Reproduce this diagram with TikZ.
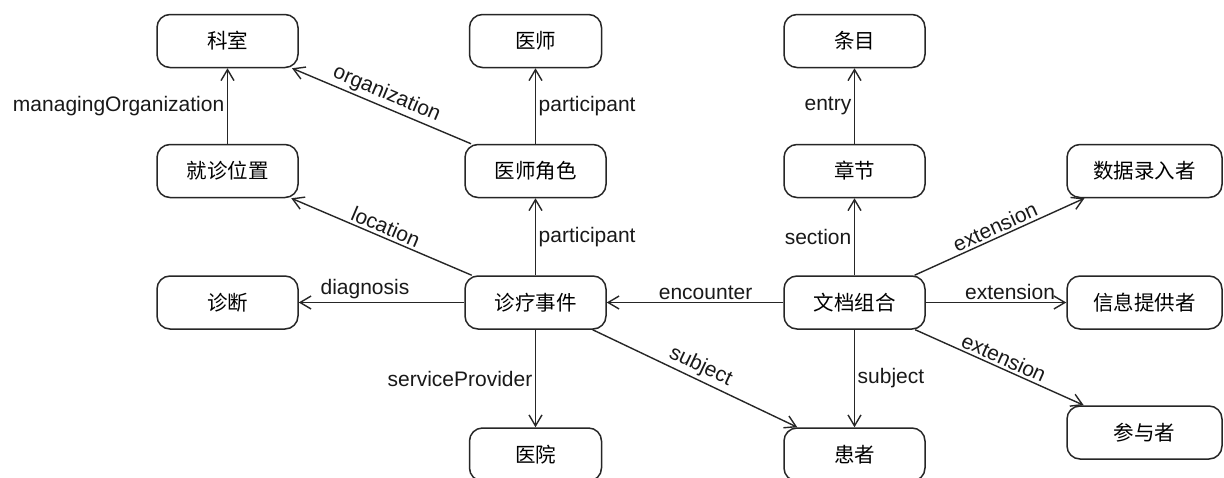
\documentclass[tikz,border=0pt]{standalone}
\usepackage{fontspec}
\setmainfont{Liberation Sans}
\newfontfamily\cjk{Noto Sans CJK SC}
\usetikzlibrary{arrows.meta}
\begin{document}
\begin{tikzpicture}[x=1pt,y=-1pt,
  box/.style={draw=black!85, line width=1.5pt, rounded corners=13pt, minimum width=141pt, minimum height=53pt, inner sep=0pt, font=\fontsize{20.5}{24}\cjk},
  conn/.style={draw=black!85, line width=1.4pt, -{Straight Barb[length=11pt,width=13pt,line width=1.4pt]}},
  lbl/.style={font=\fontsize{21}{25}\selectfont, inner sep=2.5pt, text=black!90}
]
\useasboundingbox (0,0) rectangle (1224,477);
\fill[white] (0,0) rectangle (1224,477);
\clip (0,0) rectangle (1224,477);

\node[box] (ks) at (227.5,41) {科室};
\node[box, minimum width=132pt] (ys) at (535.5,41) {医师};
\node[box] (tm) at (854.5,41) {条目};
\node[box] (jz) at (227.5,171) {就诊位置};
\node[box] (ysjs) at (535.5,171) {医师角色};
\node[box] (zj) at (854.5,171) {章节};
\node[box, minimum width=155pt] (sj) at (1144.5,171) {数据录入者};
\node[box] (zd) at (227.5,302.5) {诊断};
\node[box] (zl) at (535.5,302.5) {诊疗事件};
\node[box] (wd) at (854.5,302.5) {文档组合};
\node[box, minimum width=155pt] (xx) at (1144.5,302.5) {信息提供者};
\node[box, minimum width=155pt] (cy) at (1144.5,432.5) {参与者};
\node[box, minimum width=132pt] (yy) at (535.5,454.5) {医院};
\node[box] (hz) at (854.5,454.5) {患者};

\draw[conn] (jz) -- node[lbl, left] {managingOrganization} (ks);
\draw[conn] (ysjs) -- node[lbl, sloped, above] {organization} (ks);
\draw[conn] (ysjs) -- node[lbl, right] {participant} (ys);
\draw[conn] (zl) -- node[lbl, right] {participant} (ysjs);
\draw[conn] (zl) -- node[lbl, sloped, above] {location} (jz);
\draw[conn] (zl) -- node[lbl, above, pos=0.6] {diagnosis} (zd);
\draw[conn] (zl) -- node[lbl, left] {serviceProvider} (yy);
\draw[conn] (zl) -- node[lbl, sloped, above] {subject} (hz);
\draw[conn] (wd) -- node[lbl, above, pos=0.44] {encounter} (zl);
\draw[conn] (wd) -- node[lbl, left] {section} (zj);
\draw[conn] (zj) -- node[lbl, left] {entry} (tm);
\draw[conn] (wd) -- node[lbl, sloped, above] {extension} (sj);
\draw[conn] (wd) -- node[lbl, above, pos=0.6] {extension} (xx);
\draw[conn] (wd) -- node[lbl, sloped, above] {extension} (cy);
\draw[conn] (wd) -- node[lbl, right] {subject} (hz);
\end{tikzpicture}
\end{document}
